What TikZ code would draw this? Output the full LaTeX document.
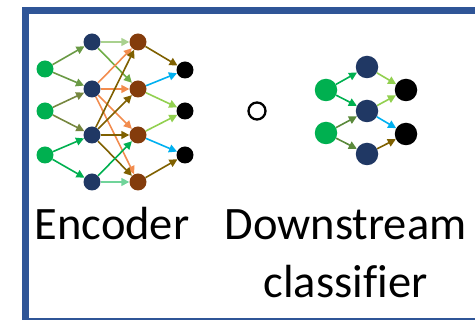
\documentclass[tikz,border=0pt]{standalone}
\usepackage{fontspec}
\setmainfont[Ligatures=NoCommon]{Carlito}
\usetikzlibrary{arrows.meta}
\definecolor{frameblue}{HTML}{2F5597}
\definecolor{ingreen}{HTML}{00B050}
\definecolor{hidblue}{HTML}{203864}
\definecolor{hidbrown}{HTML}{843C0C}
\definecolor{oliveA}{HTML}{6A9A45}
\definecolor{oliveB}{HTML}{76873F}
\definecolor{oliveC}{HTML}{5B8A3C}
\definecolor{palegreen}{HTML}{A9D18E}
\definecolor{midgreen}{HTML}{70AD47}
\definecolor{orangeE}{HTML}{F28C4E}
\definecolor{goldE}{HTML}{7F6000}
\definecolor{seagreen}{HTML}{70D49A}
\definecolor{limeE}{HTML}{92D050}
\definecolor{cyanE}{HTML}{00B0F0}
\tikzset{
  unit/.style={circle, inner sep=0pt, minimum size=17pt},
  bigunit/.style={circle, inner sep=0pt, minimum size=22.5pt},
  innode/.style={fill=ingreen},
  hidnode/.style={fill=hidblue},
  brnode/.style={fill=hidbrown},
  outnode/.style={fill=black},
  edge/.style={line width=1.6pt, -{Triangle[length=8pt,width=8pt]}},
  label/.style={font=\fontsize{46.5}{57}\selectfont, anchor=base, inner sep=0pt}
}
\begin{document}
\begin{tikzpicture}[x=1pt, y=-1pt]
  \useasboundingbox (0,0) rectangle (475,320);
  \clip (0,0) rectangle (475,320);
  % outer frame
  \draw[frameblue, line width=7pt] (25,10.5) rectangle (480,321.5);

  % encoder network
  \node[unit, innode] (i1) at (45,69) {};
  \node[unit, innode] (i2) at (45,111) {};
  \node[unit, innode] (i3) at (45,155) {};
  \node[unit, hidnode] (a1) at (92,42) {};
  \node[unit, hidnode] (a2) at (92,89) {};
  \node[unit, hidnode] (a3) at (92,135) {};
  \node[unit, hidnode] (a4) at (92,182) {};
  \node[unit, brnode] (b1) at (138,42) {};
  \node[unit, brnode] (b2) at (138,89) {};
  \node[unit, brnode] (b3) at (138,135) {};
  \node[unit, brnode] (b4) at (138,182) {};
  \node[unit, outnode] (o1) at (185,70) {};
  \node[unit, outnode] (o2) at (185,111) {};
  \node[unit, outnode] (o3) at (185,155) {};

  \draw[edge, oliveA] (i1) -- (a1);
  \draw[edge, oliveA] (i1) -- (a2);
  \draw[edge, oliveB] (i2) -- (a2);
  \draw[edge, oliveB] (i2) -- (a3);
  \draw[edge, ingreen] (i3) -- (a3);
  \draw[edge, ingreen] (i3) -- (a4);

  \draw[edge, palegreen] (a1) -- (b1);
  \draw[edge, midgreen] (a1) -- (b2);
  \draw[edge, orangeE] (a2) -- (b1);
  \draw[edge, orangeE] (a2) -- (b2);
  \draw[edge, orangeE] (a2) -- (b3);
  \draw[edge, orangeE] (a2) -- (b4);
  \draw[edge, goldE] (a3) -- (b1);
  \draw[edge, goldE] (a3) -- (b2);
  \draw[edge, goldE] (a3) -- (b3);
  \draw[edge, goldE] (a3) -- (b4);
  \draw[edge, ingreen] (a4) -- (b3);
  \draw[edge, seagreen] (a4) -- (b4);

  \draw[edge, goldE] (b1) -- (o1);
  \draw[edge, cyanE] (b2) -- (o1);
  \draw[edge, limeE] (b2) -- (o2);
  \draw[edge, limeE] (b3) -- (o2);
  \draw[edge, cyanE] (b3) -- (o3);
  \draw[edge, goldE] (b4) -- (o3);

  % composition sign
  \node[circle, draw=black, line width=2.3pt, minimum size=17pt, inner sep=0pt] (comp) at (257,111) {};

  % downstream classifier network
  \node[bigunit, innode] (c1) at (326,90) {};
  \node[bigunit, innode] (c2) at (326,133) {};
  \node[bigunit, hidnode] (d1) at (367,67) {};
  \node[bigunit, hidnode] (d2) at (367,111) {};
  \node[bigunit, hidnode] (d3) at (367,154) {};
  \node[bigunit, outnode] (e1) at (406,90) {};
  \node[bigunit, outnode] (e2) at (406,134) {};

  \draw[edge, ingreen] (c1) -- (d1);
  \draw[edge, ingreen] (c1) -- (d2);
  \draw[edge, oliveC] (c2) -- (d2);
  \draw[edge, oliveC] (c2) -- (d3);
  \draw[edge, limeE] (d1) -- (e1);
  \draw[edge, limeE] (d2) -- (e1);
  \draw[edge, cyanE] (d2) -- (e2);
  \draw[edge, goldE] (d3) -- (e2);

  % captions
  \node[label] (enc) at (112,240) {Encoder};
  \node[label] (down) at (345.5,240) {Downstream};
  \node[label] (cls) at (345.5,298) {classifier};
\end{tikzpicture}
\end{document}
